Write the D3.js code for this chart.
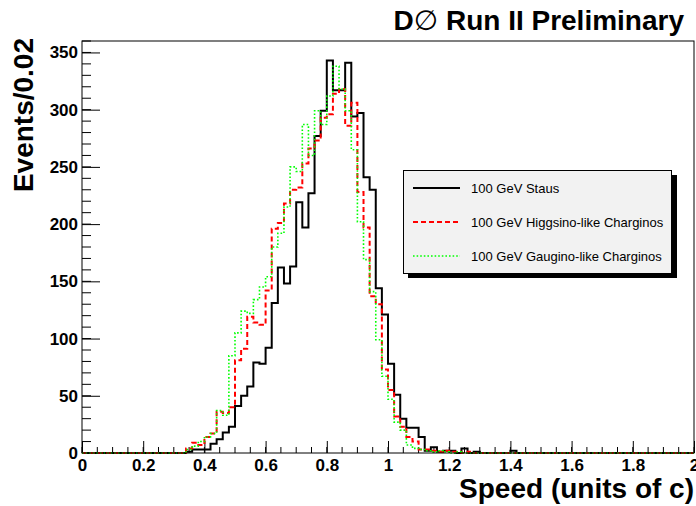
<!DOCTYPE html>
<html>
<head>
<meta charset="utf-8">
<script src="https://cdn.jsdelivr.net/npm/d3@7"></script>
<style>
  body { margin: 0; background: #fff; }
  svg { display: block; font-family: "Liberation Sans", Arial, Helvetica, sans-serif; }
</style>
</head>
<body>
<svg width="696" height="506"></svg>
<script>
// 100 bins of 0.02 from 0 to 2
var binWidth = 0.02;

var staus = [
  0, 0, 0, 0, 0, 0, 0, 0, 0, 0,
  0, 0, 0, 0, 0, 0, 0, 1, 3, 3,
  3, 8, 12, 18, 23, 41, 50, 58, 79, 78,
  92, 131, 162, 148, 163, 219, 197, 227, 277, 299,
  343, 317, 317, 341, 294, 297, 241, 230, 144, 121,
  78, 51, 30, 22, 22, 14, 2, 5, 1, 2,
  2, 0, 4, 0, 1, 0, 0, 0, 0, 0,
  2, 0, 0, 0, 0, 0, 0, 0, 0, 0,
  0, 0, 0, 0, 0, 0, 0, 0, 0, 0,
  0, 0, 0, 0, 0, 0, 0, 0, 0, 0
];

var higgsino = [
  0, 0, 0, 0, 0, 0, 0, 0, 0, 0,
  0, 0, 0, 0, 0, 0, 0, 4, 9, 7,
  14, 17, 36, 35, 40, 81, 91, 119, 114, 112,
  142, 196, 201, 218, 230, 232, 253, 266, 273, 293,
  296, 314, 318, 286, 306, 228, 197, 137, 130, 73,
  55, 32, 23, 14, 10, 3, 3, 2, 1, 2,
  1, 1, 0, 1, 0, 0, 0, 0, 0, 0,
  0, 0, 0, 0, 0, 0, 0, 0, 0, 0,
  0, 0, 0, 0, 0, 0, 0, 0, 0, 0,
  0, 0, 0, 0, 0, 0, 0, 0, 0, 0
];

var gaugino = [
  0, 0, 0, 0, 0, 0, 0, 0, 0, 0,
  0, 0, 0, 0, 0, 0, 0, 3, 6, 10,
  14, 17, 37, 33, 85, 105, 124, 122, 134, 145,
  154, 180, 192, 215, 250, 246, 287, 260, 299, 287,
  312, 338, 318, 299, 265, 202, 169, 141, 99, 67,
  47, 27, 20, 7, 4, 3, 2, 1, 2, 1,
  0, 1, 0, 0, 0, 0, 0, 0, 0, 0,
  0, 0, 0, 0, 0, 0, 0, 0, 0, 0,
  0, 0, 0, 0, 0, 0, 0, 0, 0, 0,
  0, 0, 0, 0, 0, 0, 0, 0, 0, 0
];

var xMajor = [0, 0.2, 0.4, 0.6, 0.8, 1, 1.2, 1.4, 1.6, 1.8, 2];
var yMajor = [0, 50, 100, 150, 200, 250, 300, 350];

var series = [
  { name: "100 GeV Staus", values: staus, color: "#000000", width: 2, dash: null },
  { name: "100 GeV Higgsino-like Charginos", values: higgsino, color: "#ff0000", width: 2, dash: "5,3" },
  { name: "100 GeV Gaugino-like Charginos", values: gaugino, color: "#00ff00", width: 1.6, dash: "1.6,2" }
];

var svg = d3.select("svg");
var plotLeft = 82, plotRight = 694, plotTop = 41, plotBottom = 453;

var x = d3.scaleLinear().domain([0, 2]).range([plotLeft, plotRight]);
var y = d3.scaleLinear().domain([0, 360]).range([plotBottom, plotTop]);

// minor ticks
var xMinor = d3.range(0, 41).map(function (i) { return i * 0.05; });
var yMinor = d3.range(0, 37).map(function (i) { return i * 10; });

var g = svg.append("g");

g.selectAll("line.xminor")
  .data(xMinor)
  .enter().append("line")
  .attr("x1", function (d) { return x(d); })
  .attr("x2", function (d) { return x(d); })
  .attr("y1", plotBottom).attr("y2", plotBottom - 6)
  .attr("stroke", "#000").attr("stroke-width", 1);

g.selectAll("line.yminor")
  .data(yMinor)
  .enter().append("line")
  .attr("x1", plotLeft).attr("x2", plotLeft + 9)
  .attr("y1", function (d) { return y(d); })
  .attr("y2", function (d) { return y(d); })
  .attr("stroke", "#000").attr("stroke-width", 1);

var xAxis = g.append("g")
  .attr("transform", "translate(0," + plotBottom + ")")
  .call(d3.axisBottom(x).tickValues(xMajor).tickSize(-12).tickPadding(6)
    .tickFormat(function (d) { return String(+d.toFixed(1)); }));

var yAxis = g.append("g")
  .attr("transform", "translate(" + plotLeft + ",0)")
  .call(d3.axisLeft(y).tickValues(yMajor).tickSize(-18).tickPadding(4));

[xAxis, yAxis].forEach(function (a) {
  a.select(".domain").remove();
  a.selectAll("line").attr("stroke", "#000");
  a.selectAll("text")
    .attr("fill", "#000")
    .style("font-size", "17px")
    .style("font-weight", "bold")
    .style("font-family", "'Liberation Sans', Arial, Helvetica, sans-serif");
});

// histograms
var line = d3.line()
  .x(function (d) { return x(d[0]); })
  .y(function (d) { return y(d[1]); })
  .curve(d3.curveStepAfter);

function toSteps(vals) {
  var pts = vals.map(function (v, i) { return [i * binWidth, v]; });
  pts.push([vals.length * binWidth, vals[vals.length - 1]]);
  return pts;
}

svg.append("g").selectAll("path")
  .data(series)
  .enter().append("path")
  .attr("d", function (d) { return line(toSteps(d.values)); })
  .attr("fill", "none")
  .attr("stroke", function (d) { return d.color; })
  .attr("stroke-width", function (d) { return d.width; })
  .attr("stroke-dasharray", function (d) { return d.dash; });

// frame
svg.append("rect")
  .attr("x", plotLeft).attr("y", plotTop)
  .attr("width", plotRight - plotLeft).attr("height", plotBottom - plotTop)
  .attr("fill", "none").attr("stroke", "#000").attr("stroke-width", 1);

// legend
var lg = svg.append("g");
lg.append("rect")
  .attr("x", 408).attr("y", 175).attr("width", 269).attr("height", 103)
  .attr("fill", "#000");
lg.append("rect")
  .attr("x", 403.5).attr("y", 170.5).attr("width", 268).attr("height", 103)
  .attr("fill", "#f2f2f2").attr("stroke", "#000").attr("stroke-width", 1);

var items = lg.selectAll("g.item")
  .data(series)
  .enter().append("g")
  .attr("transform", function (d, i) { return "translate(0," + (188 + i * 34) + ")"; });

items.append("line")
  .attr("x1", 413).attr("x2", 460)
  .attr("stroke", function (d) { return d.color; })
  .attr("stroke-width", function (d) { return d.width; })
  .attr("stroke-dasharray", function (d) { return d.dash; });

items.append("text")
  .attr("x", 471).attr("dy", "0.36em")
  .style("font-size", "13px")
  .text(function (d) { return d.name; });

// titles
var title = svg.append("text")
  .attr("x", 684).attr("y", 30)
  .attr("text-anchor", "end")
  .style("font-size", "28px").style("font-weight", "bold");
title.append("tspan").text("D");
title.append("tspan").style("font-weight", "normal")
  .style("font-family", "'DejaVu Sans', sans-serif").text("\u2205");
title.append("tspan").text(" Run II Preliminary");

svg.append("text")
  .attr("x", 694).attr("y", 498)
  .attr("text-anchor", "end")
  .style("font-size", "28px").style("font-weight", "bold")
  .text("Speed (units of c)");

svg.append("text")
  .attr("transform", "translate(33,38) rotate(-90)")
  .attr("text-anchor", "end")
  .style("font-size", "28px").style("font-weight", "bold")
  .text("Events/0.02");
</script>
</body>
</html>
